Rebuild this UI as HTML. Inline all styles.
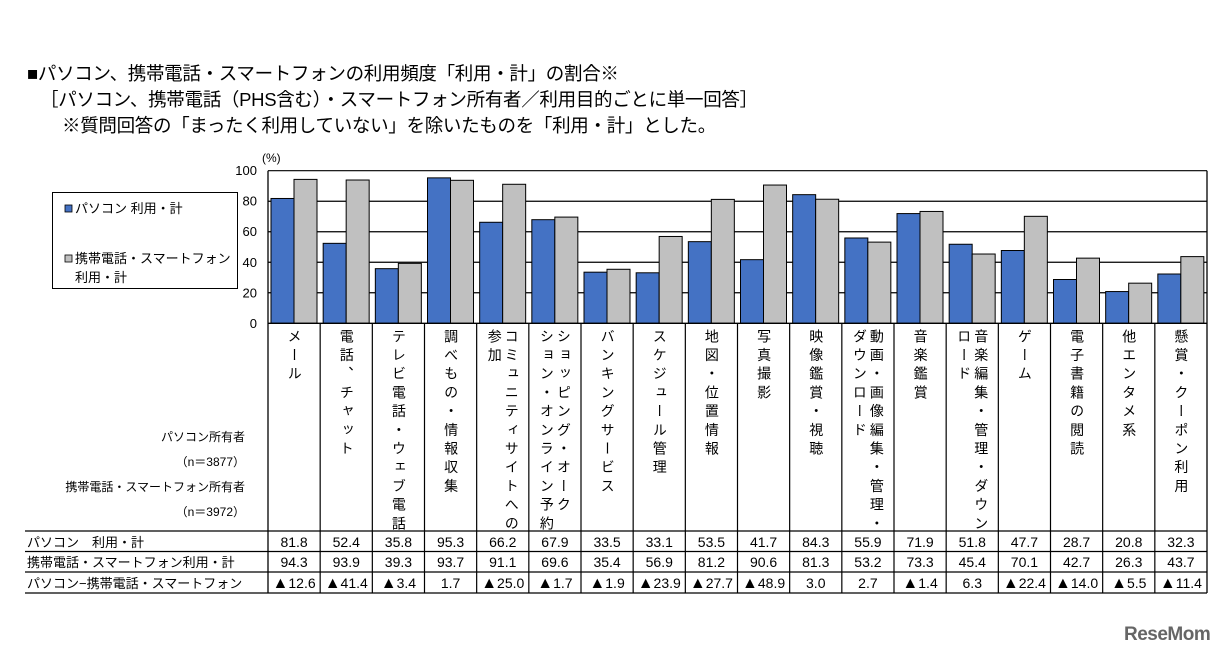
<!DOCTYPE html>
<html><head><meta charset="utf-8">
<style>
html,body{margin:0;padding:0;background:#fff;}
body{width:1232px;height:660px;overflow:hidden;position:relative;font-family:"Liberation Sans","Noto Sans CJK JP",sans-serif;}
.t{position:absolute;font-size:18.5px;color:#000;white-space:nowrap;letter-spacing:-0.3px;}
.vt{position:absolute;top:329px;writing-mode:vertical-rl;font-size:14px;letter-spacing:4.7px;line-height:17px;color:#000;white-space:nowrap;}
.logo{position:absolute;left:1124px;top:624px;font-size:19px;font-weight:bold;color:#666;letter-spacing:-0.5px;}
</style></head><body>
<div class="t" style="left:27px;top:60px;">■パソコン、携帯電話・スマートフォンの利用頻度「利用・計」の割合※</div>
<div class="t" style="left:40px;top:86px;">［パソコン、携帯電話（PHS含む）・スマートフォン所有者／利用目的ごとに単一回答］</div>
<div class="t" style="left:62px;top:112px;">※質問回答の「まったく利用していない」を除いたものを「利用・計」とした。</div>
<svg id="s" width="1232" height="660" style="position:absolute;left:0;top:0;" font-family="Liberation Sans, Noto Sans CJK JP, sans-serif"></svg>
<div id="labels"></div>
<div class="logo">ReseMom</div>
<script>
var pc=[81.8,52.4,35.8,95.3,66.2,67.9,33.5,33.1,53.5,41.7,84.3,55.9,71.9,51.8,47.7,28.7,20.8,32.3];
var mb=[94.3,93.9,39.3,93.7,91.1,69.6,35.4,56.9,81.2,90.6,81.3,53.2,73.3,45.4,70.1,42.7,26.3,43.7];
var df=["▲12.6","▲41.4","▲3.4","1.7","▲25.0","▲1.7","▲1.9","▲23.9","▲27.7","▲48.9","3.0","2.7","▲1.4","6.3","▲22.4","▲14.0","▲5.5","▲11.4"];
var cats=[["メール"],["電話、チャット"],["テレビ電話・ウェブ電話"],["調べもの・情報収集"],["コミュニティサイトへの","参加"],["ショッピング・オーク","ション・オンライン予約"],["バンキングサービス"],["スケジュール管理"],["地図・位置情報"],["写真撮影"],["映像鑑賞・視聴"],["動画・画像編集・管理・","ダウンロード"],["音楽鑑賞"],["音楽編集・管理・ダウン","ロード"],["ゲーム"],["電子書籍の閲読"],["他エンタメ系"],["懸賞・クーポン利用"]];
var L=268,R=1207,W=(R-L)/18,Y0=323.3,K=1.526;
var h='';
for(var v=20;v<=100;v+=20){var y=Y0-v*K;h+='<line x1="'+L+'" x2="'+R+'" y1="'+y+'" y2="'+y+'" stroke="#000" stroke-width="1.2"/>';}
for(var v=0;v<=100;v+=20){var y=Y0-v*K;h+='<text x="257" y="'+(y+4.5)+'" font-size="13" text-anchor="end">'+v+'</text>';}
h+='<text x="262" y="162" font-size="12">(%)</text>';
h+='<line x1="'+L+'" x2="'+L+'" y1="'+(Y0-100*K)+'" y2="593" stroke="#000" stroke-width="1.3"/>';
h+='<line x1="'+R+'" x2="'+R+'" y1="'+(Y0-100*K)+'" y2="593" stroke="#000" stroke-width="1.3"/>';
for(var i=0;i<18;i++){var x=L+i*W;
 h+='<rect x="'+(x+3)+'" y="'+(Y0-pc[i]*K)+'" width="23" height="'+(pc[i]*K)+'" fill="#4472c4" stroke="#000" stroke-width="1"/>';
 h+='<rect x="'+(x+26)+'" y="'+(Y0-mb[i]*K)+'" width="23" height="'+(mb[i]*K)+'" fill="#c0c0c0" stroke="#000" stroke-width="1"/>';
 if(i>0)h+='<line x1="'+x+'" x2="'+x+'" y1="'+Y0+'" y2="593" stroke="#000" stroke-width="1.2"/>';
 var cx=x+W/2;
 h+='<text x="'+cx+'" y="547" font-size="14" text-anchor="middle">'+pc[i].toFixed(1)+'</text>';
 h+='<text x="'+cx+'" y="567" font-size="14" text-anchor="middle">'+mb[i].toFixed(1)+'</text>';
 h+='<text x="'+cx+'" y="588" font-size="14" text-anchor="middle">'+df[i].replace('▲','<tspan font-size="16">▲</tspan>')+'</text>';
}
h+='<line x1="'+L+'" x2="'+R+'" y1="'+Y0+'" y2="'+Y0+'" stroke="#000" stroke-width="1.3"/>';
[531,551.5,572,593].forEach(function(y){h+='<line x1="25" x2="'+R+'" y1="'+y+'" y2="'+y+'" stroke="#000" stroke-width="1.2"/>';});
h+='<text x="27" y="547" font-size="13">パソコン　利用・計</text>';
h+='<text x="27" y="567" font-size="13">携帯電話・スマートフォン利用・計</text>';
h+='<text x="27" y="588" font-size="13">パソコン−携帯電話・スマートフォン</text>';
h+='<text x="245" y="441" font-size="12" text-anchor="end">パソコン所有者</text>';
h+='<text x="245" y="466" font-size="12" text-anchor="end">（n＝3877）</text>';
h+='<text x="245" y="491" font-size="12" text-anchor="end">携帯電話・スマートフォン所有者</text>';
h+='<text x="245" y="516" font-size="12" text-anchor="end">（n＝3972）</text>';
h+='<rect x="52.5" y="192.5" width="185" height="96" fill="#fff" stroke="#000" stroke-width="1"/>';
h+='<rect x="65" y="205" width="7" height="7" fill="#4472c4" stroke="#000" stroke-width="0.8"/>';
h+='<text x="75" y="213" font-size="13">パソコン 利用・計</text>';
h+='<rect x="65" y="255" width="7" height="7" fill="#c0c0c0" stroke="#000" stroke-width="0.8"/>';
h+='<text x="75" y="263" font-size="13">携帯電話・スマートフォン</text>';
h+='<text x="75" y="282" font-size="13">利用・計</text>';
document.getElementById('s').innerHTML=h;
var lb='';
for(var i=0;i<18;i++){var x=L+i*W,c=cats[i];var w=c.length*17;
 lb+='<div class="vt" style="left:'+(x+W/2-w/2)+'px;">'+c.join('<br>')+'</div>';}
document.getElementById('labels').innerHTML=lb;
</script>
</body></html>
